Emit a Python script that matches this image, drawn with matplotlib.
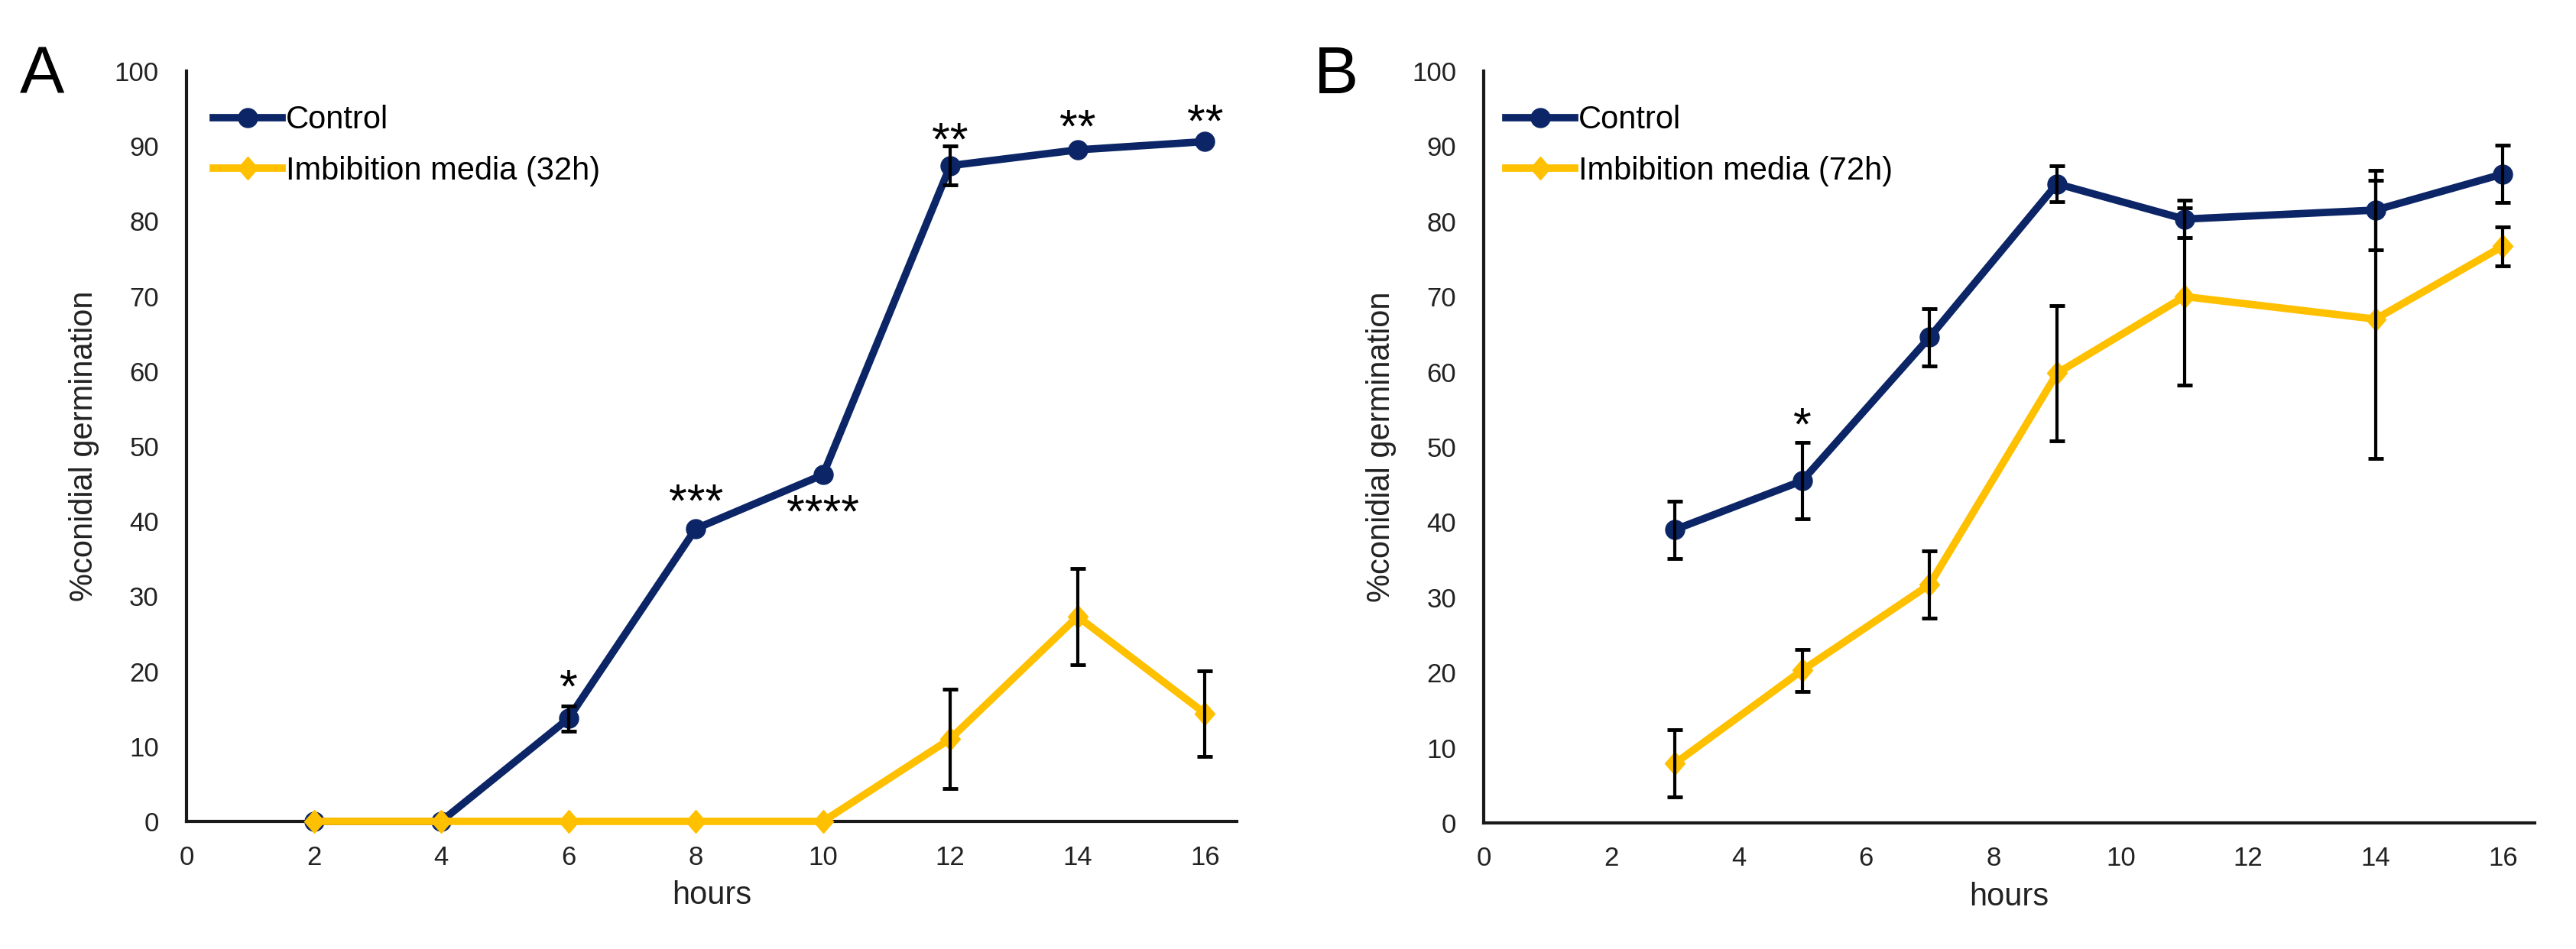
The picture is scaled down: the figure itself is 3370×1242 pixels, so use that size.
import numpy as np
import matplotlib.pyplot as plt
from matplotlib.markers import MarkerStyle
from matplotlib.transforms import Affine2D

plt.rcParams['font.family'] = ['Liberation Sans', 'DejaVu Sans']

navy = '#0b2566'
gold = '#ffc000'
diamond = MarkerStyle('D', transform=Affine2D().scale(0.85, 1.0))

# panel A
hours_a = [2, 4, 6, 8, 10, 12, 14, 16]
control_a = [0, 0, 13.7, 39.0, 46.2, 87.4, 89.5, 90.6]
control_a_err = [0, 0, 1.7, 0, 0, 2.6, 0, 0]
imb_a = [0, 0, 0, 0, 0, 11.0, 27.3, 14.4]
imb_a_err = [0, 0, 0, 0, 0, 6.6, 6.4, 5.7]
stars_a = ['*', '***', '****', '**', '**', '**']
stars_a_x = [6, 8, 10, 12, 14, 16]
stars_a_y = [19.2, 44.0, 42.6, 92.2, 93.9, 94.6]

# panel B
hours_b = [3, 5, 7, 9, 11, 14, 16]
control_b = [39.0, 45.5, 64.6, 85.0, 80.3, 81.5, 86.3]
control_b_err = [3.8, 5.1, 3.8, 2.4, 2.5, 5.3, 3.8]
imb_b = [7.9, 20.3, 31.7, 59.8, 70.0, 67.0, 76.7]
imb_b_err = [4.5, 2.8, 4.5, 9.0, 11.8, 18.5, 2.6]
stars_b = ['*']
stars_b_x = [5]
stars_b_y = [54.3]

fig = plt.figure(figsize=(33.7, 12.42), dpi=100)
ax_a = fig.add_axes([0.0724, 0.1345, 0.4077, 0.7906])
ax_b = fig.add_axes([0.576, 0.1329, 0.408, 0.7923])


def draw(ax, x, ctrl, ctrl_err, imb, imb_err, imb_label, stars, sx, sy, legx):
    ax.plot(x, ctrl, color=navy, lw=7, marker='o', ms=18, label='Control',
            zorder=3, clip_on=False)
    ax.plot(x, imb, color=gold, lw=7, marker=diamond, ms=15, label=imb_label,
            zorder=4, clip_on=False)
    for y, e in [(ctrl, ctrl_err), (imb, imb_err)]:
        e = np.array(e)
        keep = e > 0
        ax.errorbar(np.array(x)[keep], np.array(y)[keep], yerr=e[keep], fmt='none',
                    ecolor='black', elinewidth=3, capsize=7.5, capthick=3.5, zorder=5)
    for s, xx, yy in zip(stars, sx, sy):
        ax.text(xx, yy - 3.3, s, ha='center', va='baseline', fontsize=44)

    ax.set_xlim(0, 16.5)
    ax.set_ylim(0, 100)
    ax.set_xticks(range(0, 17, 2))
    ax.set_yticks(range(0, 101, 10))
    ax.spines['top'].set_visible(False)
    ax.spines['right'].set_visible(False)
    for side in ['left', 'bottom']:
        ax.spines[side].set_linewidth(3)
        ax.spines[side].set_color('#1a1a1a')
    ax.tick_params(axis='x', length=0, pad=22, labelsize=25, colors='#222222')
    ax.tick_params(axis='y', length=0, pad=26, labelsize=25, colors='#222222')
    ax.set_xlabel('hours', fontsize=30, labelpad=10, color='#222222')
    ax.set_ylabel('%conidial germination', fontsize=30, labelpad=14, color='#222222')
    ax.legend(loc='upper left', bbox_to_anchor=(legx, 0.955), frameon=False,
              fontsize=30, handlelength=2.16, handletextpad=0.12, labelspacing=0.64,
              borderaxespad=0, borderpad=0)


draw(ax_a, hours_a, control_a, control_a_err, imb_a, imb_a_err,
     'Imbibition media (32h)', stars_a, stars_a_x, stars_a_y, 0.0255)
draw(ax_b, hours_b, control_b, control_b_err, imb_b, imb_b_err,
     'Imbibition media (72h)', stars_b, stars_b_x, stars_b_y, 0.021)

fig.text(55 / 3370, 1 - 100 / 1242, 'A', fontsize=63, ha='center', va='center')
fig.text(1748 / 3370, 1 - 100 / 1242, 'B', fontsize=63, ha='center', va='center')

fig.savefig('out.png', dpi=100)
